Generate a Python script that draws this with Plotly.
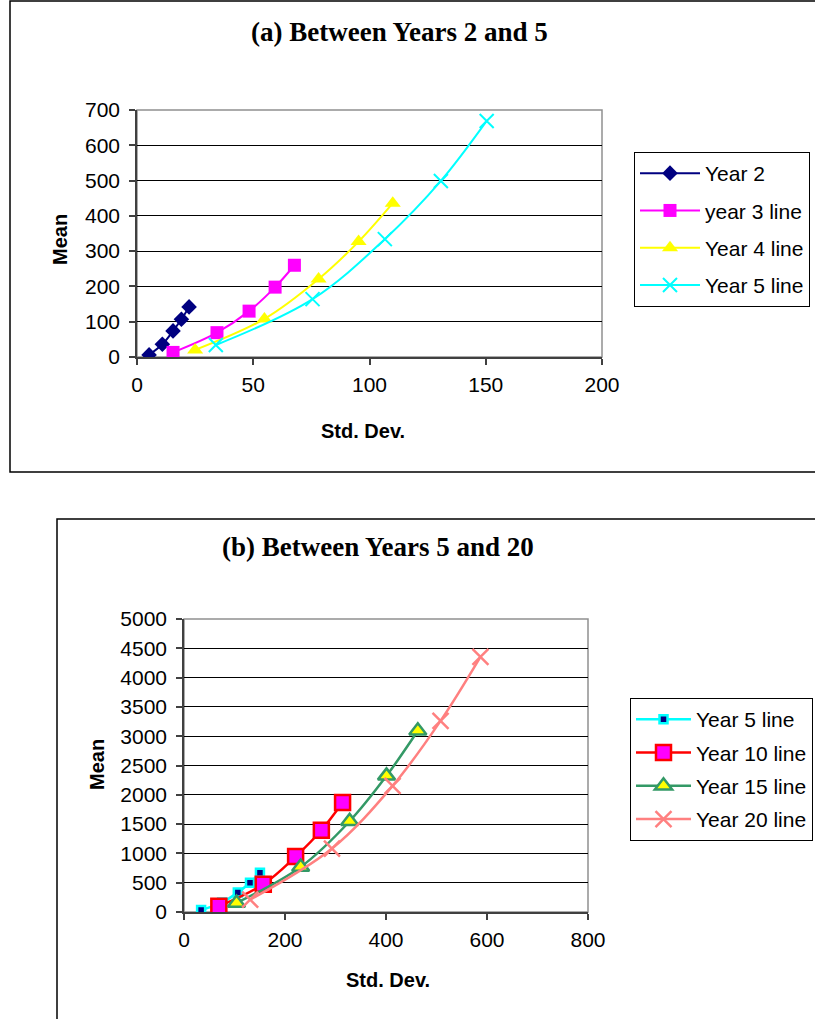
import plotly.graph_objects as go

W, H = 815, 1019

# ---------------- data (a) ----------------
a_y2_sd = [5.2, 10.9, 15.5, 19.1, 22.4]
a_y2_mean = [6, 36, 74, 107, 142]
a_y3_sd = [15.5, 34.4, 48.2, 59.4, 67.7]
a_y3_mean = [13, 69, 130, 198, 260]
a_y4_sd = [25.0, 54.8, 78.1, 95.3, 110.0]
a_y4_mean = [20, 108, 221, 327, 436]
a_y5_sd = [33.9, 75.5, 106.6, 130.7, 150.4]
a_y5_mean = [34, 164, 334, 499, 669]

# ---------------- data (b) ----------------
b_y5_sd = [33.9, 75.5, 106.6, 130.7, 150.4]
b_y5_mean = [34, 164, 334, 499, 669]
b_y10_sd = [69, 157, 221, 272, 314]
b_y10_mean = [97, 473, 946, 1395, 1868]
b_y15_sd = [104, 231, 328, 401, 463]
b_y15_mean = [154, 769, 1549, 2323, 3092]
b_y20_sd = [131, 293, 413, 508, 587]
b_y20_mean = [211, 1083, 2152, 3262, 4355]

fig = go.Figure()

def px_x(p):
    return p / W

def px_y(p):
    return 1 - p / H

# --- chart (a) traces ---
fig.add_trace(go.Scatter(x=a_y2_sd, y=a_y2_mean, name="Year 2", mode="lines+markers",
    line=dict(color="#000080", width=2, shape="spline"),
    marker=dict(symbol="diamond", size=12, color="#000080"),
    xaxis="x", yaxis="y", legend="legend", legendgroup="a1"))
fig.add_trace(go.Scatter(x=a_y3_sd, y=a_y3_mean, name="year 3 line", mode="lines+markers",
    line=dict(color="#FF00FF", width=2, shape="spline"),
    marker=dict(symbol="square", size=13, color="#FF00FF"),
    xaxis="x", yaxis="y", legend="legend", legendgroup="a2"))
fig.add_trace(go.Scatter(x=a_y4_sd, y=a_y4_mean, name="Year 4 line", mode="lines+markers",
    line=dict(color="#FFFF00", width=2, shape="spline"),
    marker=dict(symbol="triangle-up", size=14, color="#FFFF00"),
    xaxis="x", yaxis="y", legend="legend", legendgroup="a3"))
fig.add_trace(go.Scatter(x=a_y5_sd, y=a_y5_mean, name="Year 5 line", mode="lines+markers",
    line=dict(color="#00FFFF", width=2, shape="spline"),
    marker=dict(symbol="x-thin", size=14, color="#00FFFF", line=dict(color="#00FFFF", width=2)),
    xaxis="x", yaxis="y", legend="legend", legendgroup="a4"))

# --- chart (b) traces ---
fig.add_trace(go.Scatter(x=b_y5_sd, y=b_y5_mean, name="Year 5 line", mode="lines+markers",
    line=dict(color="#00FFFF", width=2.5, shape="spline"),
    marker=dict(symbol="square", size=8, color="#000080", line=dict(color="#00FFFF", width=2.5)),
    xaxis="x2", yaxis="y2", legend="legend2", legendgroup="b1"))
fig.add_trace(go.Scatter(x=b_y10_sd, y=b_y10_mean, name="Year 10 line", mode="lines+markers",
    line=dict(color="#FF0000", width=2.5, shape="spline"),
    marker=dict(symbol="square", size=15, color="#FF00FF", line=dict(color="#FF0000", width=2.5)),
    xaxis="x2", yaxis="y2", legend="legend2", legendgroup="b2"))
fig.add_trace(go.Scatter(x=b_y15_sd, y=b_y15_mean, name="Year 15 line", mode="lines+markers",
    line=dict(color="#339966", width=2.5, shape="spline"),
    marker=dict(symbol="triangle-up", size=15, color="#FFFF00", line=dict(color="#339966", width=2.5)),
    xaxis="x2", yaxis="y2", legend="legend2", legendgroup="b3"))
fig.add_trace(go.Scatter(x=b_y20_sd, y=b_y20_mean, name="Year 20 line", mode="lines+markers",
    line=dict(color="#FF8080", width=2.5, shape="spline"),
    marker=dict(symbol="x-thin", size=16, color="#FF8080", line=dict(color="#FF8080", width=2.5)),
    xaxis="x2", yaxis="y2", legend="legend2", legendgroup="b4"))

SANS = "Liberation Sans, Arial"
tickfont = dict(family=SANS, size=21, color="black")

def xax(domain, rng, dtick, anchor):
    return dict(domain=domain, range=rng, dtick=dtick, anchor=anchor, automargin=False,
                showgrid=False, zeroline=False, showline=True, linecolor="#404040", linewidth=1.5,
                ticks="outside", ticklen=6, tickcolor="#404040", tickwidth=1.5,
                tickfont=tickfont, ticklabelstandoff=2, fixedrange=True)

def yax(domain, rng, dtick, anchor):
    return dict(domain=domain, range=rng, dtick=dtick, anchor=anchor, automargin=False,
                showgrid=True, gridcolor="black", gridwidth=1, zeroline=False,
                showline=True, linecolor="#404040", linewidth=1.5,
                ticks="outside", ticklen=6, tickcolor="#404040", tickwidth=1.5,
                tickfont=tickfont, ticklabelstandoff=5, fixedrange=True)

fig.update_layout(
    width=W, height=H, margin=dict(l=0, r=0, t=0, b=0, autoexpand=False),
    paper_bgcolor="white", plot_bgcolor="white",
    xaxis=xax([px_x(137), px_x(602)], [0, 200], 50, "y"),
    yaxis=yax([px_y(357), px_y(110)], [0, 700], 100, "x"),
    xaxis2=xax([px_x(184), px_x(588)], [0, 800], 200, "y2"),
    yaxis2=yax([px_y(912), px_y(619)], [0, 5000], 500, "x2"),
    legend=dict(x=px_x(634), y=px_y(152), xanchor="left", yanchor="top",
                bordercolor="black", borderwidth=1, bgcolor="white",
                font=dict(family=SANS, size=21, color="black"),
                tracegroupgap=7, traceorder="grouped", itemwidth=60),
    legend2=dict(x=px_x(630), y=px_y(698), xanchor="left", yanchor="top",
                 bordercolor="black", borderwidth=1, bgcolor="white",
                 font=dict(family=SANS, size=21, color="black"),
                 tracegroupgap=3, traceorder="grouped", itemwidth=55),
    showlegend=True,
)

# plot-area frames (gray) and outer chart boxes (black)
shapes = [
    dict(type="rect", xref="x domain", yref="y domain", x0=0, x1=1, y0=0, y1=1,
         line=dict(color="#909090", width=1.5), layer="below"),
    dict(type="rect", xref="x2 domain", yref="y2 domain", x0=0, x1=1, y0=0, y1=1,
         line=dict(color="#909090", width=1.5), layer="below"),
    dict(type="rect", xref="paper", yref="paper", x0=px_x(10), x1=1.02, y0=px_y(472), y1=px_y(1),
         line=dict(color="black", width=1.5), layer="below"),
    dict(type="rect", xref="paper", yref="paper", x0=px_x(57), x1=1.02, y0=-0.02, y1=px_y(519),
         line=dict(color="black", width=1.5), layer="below"),
]
fig.update_layout(shapes=shapes)

titlefont = dict(family="Liberation Serif, Times New Roman", size=27, color="black")
axfont = dict(family=SANS, size=20, color="black")
ann = [
    dict(text="<b>(a) Between Years 2 and 5</b>", x=px_x(399), y=px_y(32), font=titlefont),
    dict(text="<b>(b) Between Years 5 and 20</b>", x=px_x(378), y=px_y(547), font=titlefont),
    dict(text="<b>Mean</b>", x=px_x(60), y=px_y(240), font=axfont, textangle=-90),
    dict(text="<b>Mean</b>", x=px_x(97), y=px_y(765), font=axfont, textangle=-90),
    dict(text="<b>Std. Dev.</b>", x=px_x(363), y=px_y(431), font=axfont),
    dict(text="<b>Std. Dev.</b>", x=px_x(388), y=px_y(980), font=axfont),
]
for a in ann:
    a.update(xref="paper", yref="paper", showarrow=False, xanchor="center", yanchor="middle")
fig.update_layout(annotations=ann)

fig.write_html("out.html", config={"displayModeBar": False},
               post_script="document.body.style.margin='0';document.body.style.overflow='hidden';"
                           "document.documentElement.style.overflow='hidden';")
